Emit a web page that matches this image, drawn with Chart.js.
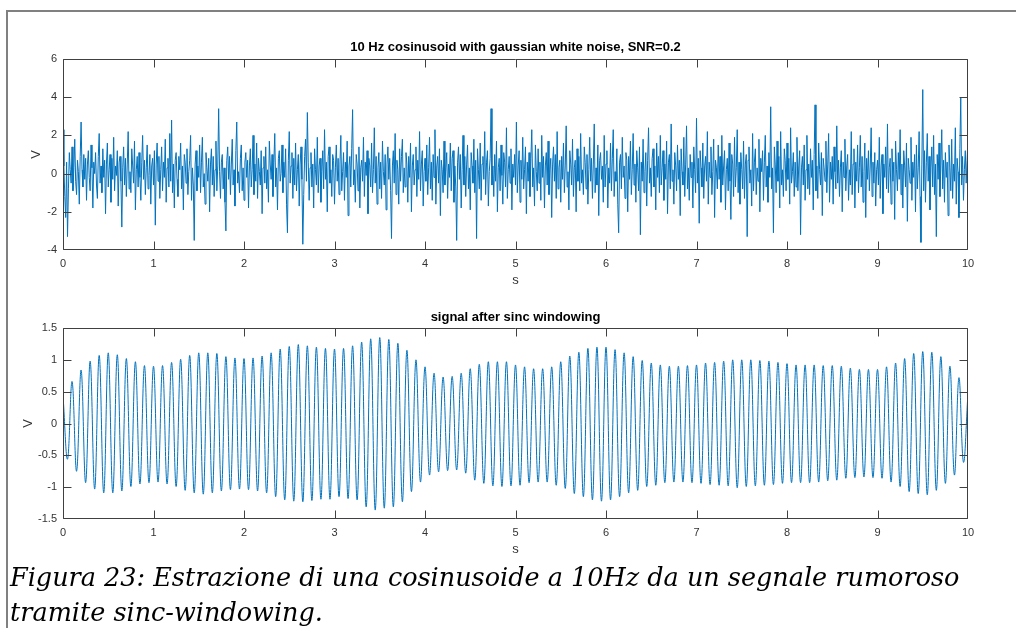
<!DOCTYPE html>
<html>
<head>
<meta charset="utf-8">
<script src="https://cdn.jsdelivr.net/npm/chart.js@4.4.1/dist/chart.umd.min.js"></script>
<style>
  body { margin: 0; background: #fff; width: 1016px; height: 628px; overflow: hidden; position: relative; }
  #frame { position: absolute; left: 6px; top: 10px; width: 1010px; height: 618px; border-top: 2px solid #808080; border-left: 2px solid #808080; }
  canvas { position: absolute; left: 0; }
  #c1 { top: 0; }
  #c2 { top: 300px; }
  #caption { position: absolute; left: 10px; top: 560px; font-family: "DejaVu Serif"; font-style: italic; font-size: 25.5px; line-height: 35px; color: #000; white-space: nowrap; }
</style>
</head>
<body>
<div id="frame"></div>
<canvas id="c1" width="1016" height="300"></canvas>
<canvas id="c2" width="1016" height="265"></canvas>
<div id="caption">Figura 23: Estrazione di una cosinusoide a 10Hz da un segnale rumoroso<br>tramite sinc-windowing.</div>
<script>
// noisy signal, one sample every 0.01 s
const dtNoise = 0.01;
const noisy = [
  2.3,0.4,-1.2,-2.3,0.6,-3.3,-0.8,1.1,0.2,-0.5,1.4,-0.9,0.3,1.8,-0.4,-1.1,0.7,0.1,-1.6,0.9,2.7,0.2,-0.7,1.0,-0.3,
  0.8,-1.4,0.5,1.2,-0.2,-0.9,1.5,0.3,-1.8,0.6,0.0,1.1,-0.6,-1.3,0.9,2.1,-0.5,0.4,-1.0,1.3,-0.2,0.7,-2.1,0.5,1.6,
  -0.7,0.2,1.0,-1.5,0.8,-0.3,1.9,-0.9,0.4,-0.1,1.2,-1.7,0.6,0.9,-0.4,-2.8,0.3,1.4,-0.6,0.8,-1.2,0.5,2.2,-0.8,0.1,
  -1.0,1.3,0.4,-0.5,1.7,-1.9,0.2,0.9,-0.7,1.1,-0.2,-1.4,0.6,2.0,-0.3,0.7,-1.1,0.3,1.5,-0.8,-0.1,1.0,-1.6,0.4,0.8,
  -0.6,1.2,-2.7,0.5,1.6,-0.4,0.9,-1.3,0.2,1.4,-0.9,0.6,-0.2,1.8,-1.5,0.3,0.8,-0.7,2.1,-0.4,2.8,-1.0,0.5,-1.8,0.7,
  1.1,-0.3,-1.2,0.9,0.2,1.6,-0.8,0.4,-1.9,1.0,0.6,-0.5,1.3,-1.1,0.1,0.7,2.0,-1.4,0.3,-0.6,-3.5,0.5,1.2,-0.9,0.4,
  -0.2,1.5,-1.0,0.6,1.9,-0.7,0.0,-1.6,1.1,0.3,-0.4,0.8,-2.0,0.5,1.3,-0.6,0.9,-1.2,0.2,1.7,-0.9,0.4,3.4,0.1,-1.3,
  0.6,1.0,-0.8,0.3,-1.5,-3.0,0.7,1.4,-0.3,0.9,-1.1,0.5,1.8,-0.6,0.2,-1.7,1.2,2.7,-0.5,0.1,-1.0,0.8,1.5,-0.9,0.3,
  -1.4,0.6,1.1,-0.2,0.7,-1.8,0.4,1.3,-0.7,0.2,2.0,-1.1,0.5,-0.4,1.6,-1.3,0.8,0.1,-0.6,1.2,-2.1,0.3,0.9,-0.5,1.4,
  -0.8,0.2,-1.5,1.7,0.5,-0.3,1.0,-1.2,0.6,2.1,-0.7,0.3,-1.9,0.8,1.2,-0.4,0.0,1.5,-1.0,0.6,-0.2,1.3,-1.6,-3.1,0.7,
  2.2,-0.5,0.4,1.1,-1.3,0.8,-0.6,1.6,-0.9,0.2,1.0,-1.7,0.5,1.4,-0.3,-3.7,-1.1,0.9,1.8,-0.4,3.2,0.6,-1.4,0.3,1.1,
  -0.7,0.5,-1.8,1.3,0.2,-0.6,1.9,-1.0,0.4,0.8,-1.5,0.1,1.2,-0.8,2.3,-0.3,0.6,-2.0,0.9,1.4,-0.5,0.2,-1.2,1.0,0.7,
  -1.6,0.3,1.5,-0.4,0.8,-1.1,0.5,2.0,-0.9,0.1,1.1,-1.4,0.6,-0.2,1.7,-2.2,0.4,0.9,-0.7,1.3,3.35,-0.6,0.2,-1.5,1.0,
  0.5,-0.9,1.4,-1.8,0.3,0.7,-0.4,1.9,-1.2,0.6,-0.1,1.2,-2.1,0.8,0.4,-0.7,1.6,-1.0,0.2,2.4,-0.5,0.9,-1.6,0.3,1.1,
  -0.8,0.6,-1.3,1.7,0.1,-0.6,1.0,-1.9,0.5,1.4,-0.3,0.8,-0.9,-3.4,0.4,1.2,-0.5,2.1,-1.1,0.7,0.2,-1.6,1.3,-0.4,0.9,
  1.8,-1.0,0.3,-0.7,1.1,0.5,-1.5,0.9,-0.2,1.6,-2.0,0.4,1.0,-0.6,0.2,1.4,-1.2,0.7,-0.3,2.2,-0.9,0.5,1.2,-1.7,0.1,
  0.8,-0.4,1.5,-1.1,0.3,1.9,-0.8,0.6,-1.4,1.0,-0.2,2.3,-1.6,0.4,0.9,-0.5,1.3,-2.2,0.7,0.2,-1.0,1.7,-0.6,0.3,1.1,
  -1.3,0.5,-0.2,1.6,-0.9,0.8,1.2,-1.5,0.4,-0.7,-3.5,0.6,1.4,-0.3,1.0,-1.8,0.2,2.0,-0.6,0.9,-1.2,0.5,1.5,-0.8,0.3,
  -1.9,1.1,0.4,-0.5,1.8,-1.0,0.7,-3.4,1.3,0.2,-0.8,1.6,-1.4,0.5,0.9,-0.3,2.2,-1.1,0.6,1.2,-1.7,0.1,0.8,3.4,-0.6,
  0.4,-1.2,1.0,-0.4,1.7,-2.0,0.3,0.8,-0.9,1.5,-0.1,-1.6,1.1,0.6,-0.7,2.4,-1.3,0.2,0.9,-0.5,1.3,-1.9,0.5,-0.2,1.0,
  -0.6,2.7,-1.0,0.4,1.2,-1.5,0.7,-0.3,1.9,-0.8,0.2,1.4,-2.1,0.6,-0.4,1.1,-1.2,0.8,2.3,-0.7,0.3,-1.7,1.5,0.1,-0.9,
  1.3,-0.5,0.6,-1.4,2.0,-0.2,0.9,-1.8,0.4,1.1,-0.6,1.7,-1.1,0.2,0.8,-2.3,0.5,1.4,-0.4,1.0,-1.3,2.2,-0.8,0.3,0.7,
  -1.5,0.9,-0.3,1.6,-1.0,0.4,2.5,-0.7,0.1,-1.9,1.2,0.5,-0.6,1.8,-1.2,0.3,0.7,-2.0,1.3,-0.4,0.9,-0.9,2.1,-0.5,0.2,
  -1.1,1.4,0.6,-0.8,1.0,-1.6,0.2,1.9,-0.4,0.8,-1.3,0.5,2.6,-1.0,0.3,-0.6,1.5,-2.2,0.7,1.1,-0.3,0.4,-1.5,2.0,-0.7,
  0.5,1.2,-1.8,0.3,-0.5,1.6,-0.9,0.8,2.3,-1.2,0.1,-0.4,1.3,-1.6,-3.1,0.6,1.0,-0.8,1.9,-0.2,0.4,-1.3,1.1,0.7,-2.0,
  0.9,-0.3,1.7,-1.1,0.2,2.1,-0.6,0.5,-1.5,1.2,0.3,-0.9,1.4,-3.2,0.6,-0.4,1.8,-1.0,0.1,1.1,-1.7,0.7,2.4,-0.5,0.3,
  -1.2,0.8,1.3,-0.7,0.4,-1.9,1.6,-0.2,0.9,-1.0,2.0,-0.6,0.3,1.2,-1.4,0.5,-0.3,1.7,-2.1,0.6,1.0,-0.8,2.6,-0.4,0.2,
  -1.6,1.1,0.4,-0.9,1.5,-0.3,0.7,-2.2,1.3,0.1,-0.6,1.9,-1.2,0.5,2.5,-0.8,0.3,-1.4,1.0,-0.2,0.6,-1.8,1.4,0.2,-1.0,
  2.9,-0.5,0.8,-2.6,1.2,0.3,-0.7,1.6,-1.3,0.4,0.9,-0.4,2.2,-1.6,0.6,-0.2,1.4,-1.1,0.1,1.8,-2.3,0.7,0.3,-0.8,1.5,
  -0.3,0.9,-1.5,2.0,-0.6,0.4,1.2,-1.9,0.2,0.8,-0.9,1.6,-0.4,-2.4,1.0,0.5,-1.2,1.9,-0.7,0.3,2.3,-1.0,0.6,-1.6,1.1,
  0.2,-0.8,1.7,-1.3,0.5,1.0,-3.3,0.7,1.4,-0.5,0.2,-1.7,2.1,-0.9,0.6,1.3,-1.1,0.3,-0.4,1.8,-2.0,0.8,0.1,1.2,-1.4,
  0.6,2.0,-0.7,0.4,-1.5,1.1,-0.2,3.5,-0.8,0.3,-3.1,1.4,0.5,-1.0,1.7,-0.4,0.9,-1.8,2.2,-0.6,0.2,-1.2,1.3,0.7,-0.9,
  1.6,-0.3,0.8,-1.6,2.4,-0.5,0.1,1.1,-1.2,0.6,-0.7,1.9,-0.9,0.4,1.2,-3.2,0.3,0.9,-0.6,1.5,-1.4,0.2,2.0,-0.8,0.5,
  -1.1,1.3,-0.2,0.7,-1.9,1.0,3.6,-0.9,0.4,-1.3,1.6,0.2,-0.6,1.1,-2.2,0.8,0.3,-0.4,1.7,-1.0,0.5,2.1,-1.5,0.6,-0.3,
  0.9,-1.6,1.4,0.1,-0.8,2.5,-0.5,0.7,-1.2,0.3,1.2,-2.0,0.6,-0.2,1.8,-0.9,0.4,1.0,-1.4,0.2,-0.6,2.2,-1.1,0.5,1.3,
  -1.8,0.6,-0.4,1.5,-1.0,0.3,2.0,-0.7,0.9,-1.5,0.1,1.6,-2.3,0.8,-0.3,1.2,-0.9,0.4,2.4,-1.2,0.6,-0.5,1.1,-1.7,0.2,
  0.7,-0.6,1.9,-1.3,0.4,1.0,-2.1,0.5,-0.2,1.4,-0.8,2.6,-1.0,0.3,0.8,-1.6,1.3,-0.4,0.6,-2.4,1.7,0.2,-0.9,1.1,-0.3,
  2.3,-1.1,0.5,-1.8,1.2,0.4,-0.7,1.6,-2.5,0.8,0.2,-0.5,1.9,-1.4,0.6,-0.2,1.0,-2.0,1.5,-0.8,0.3,2.2,-1.2,-3.6,0.5,
  4.4,-0.9,1.2,-1.5,0.6,2.1,-0.4,0.9,-1.9,0.3,1.4,-0.7,2.0,-1.1,0.5,-3.3,1.0,-0.3,1.6,-1.2,0.4,2.3,-0.8,0.7,-1.5,
  1.1,-0.2,0.6,-2.2,1.5,0.3,-0.9,1.8,-1.3,0.5,-0.4,2.4,-1.6,0.8,0.1,-2.3,1.3,4.0,-0.6,0.9,-1.4,0.2,1.2,-0.5,0.7,
  1.9
];

// filtered signal: crests and troughs, every 0.05 s
const dtFilt = 0.05;
const filtered = [
  0.44,-0.56,0.66,-0.75,0.84,-0.93,0.98,-1.03,1.07,-1.09,1.11,-1.09,1.08,-1.06,1.02,-0.99,0.97,-0.95,0.91,-0.93,
  0.90,-0.92,0.91,-0.95,0.96,-0.99,1.01,-1.05,1.07,-1.09,1.11,-1.11,1.11,-1.09,1.10,-1.06,1.05,-1.04,1.03,-1.03,
  1.02,-1.04,1.03,-1.06,1.06,-1.09,1.11,-1.15,1.17,-1.20,1.21,-1.22,1.24,-1.23,1.22,-1.21,1.20,-1.19,1.18,-1.19,
  1.17,-1.15,1.18,-1.18,1.22,-1.20,1.28,-1.31,1.33,-1.36,1.35,-1.33,1.32,-1.31,1.26,-1.23,1.15,-1.07,1.00,-0.92,
  0.89,-0.81,0.79,-0.76,0.73,-0.74,0.74,-0.73,0.79,-0.78,0.86,-0.89,0.93,-0.94,0.97,-0.98,0.97,-0.99,0.97,-0.98,
  0.92,-0.97,0.89,-0.93,0.86,-0.92,0.86,-0.92,0.89,-0.97,0.97,-1.02,1.06,-1.10,1.12,-1.15,1.18,-1.20,1.20,-1.22,
  1.20,-1.20,1.16,-1.15,1.11,-1.09,1.05,-1.05,0.99,-0.99,0.95,-0.97,0.92,-0.93,0.90,-0.92,0.90,-0.92,0.91,-0.93,
  0.92,-0.94,0.95,-0.96,0.96,-0.97,0.98,-0.98,1.00,-1.01,1.00,-0.99,1.00,-0.98,0.99,-0.97,0.98,-0.96,0.96,-0.94,
  0.94,-0.93,0.92,-0.93,0.92,-0.93,0.92,-0.92,0.91,-0.90,0.91,-0.89,0.90,-0.86,0.87,-0.85,0.85,-0.84,0.85,-0.85,
  0.85,-0.86,0.89,-0.92,0.95,-0.99,1.02,-1.07,1.10,-1.10,1.13,-1.12,1.12,-1.05,1.05,-0.94,0.90,-0.81,0.72,-0.61,
  0.48
];

const topTitle = "10 Hz cosinusoid with gaussian white noise, SNR=0.2";
const bottomTitle = "signal after sinc windowing";
const topYTicks = [-4, 6, 2];      // min, max, step
const bottomYTicks = [-1.5, 1.5, 0.5];

const blue = "#0072bd";
const axisCol = "#333";

// box round the axes with inward ticks, like matlab, plus a title centred on the axes
const boxPlugin = {
  id: "box",
  afterDraw(chart, args, o) {
    const { ctx, chartArea: a, scales: { x, y } } = chart;
    const L = Math.round(a.left) + 0.5, R = Math.round(a.right) - 0.5;
    const T = Math.round(a.top) + 0.5, B = Math.round(a.bottom) - 0.5;
    const clamp = (v, lo, hi) => Math.min(Math.max(v, lo), hi);
    ctx.save();
    ctx.strokeStyle = "#404040";
    ctx.lineWidth = 1;
    ctx.beginPath();
    x.ticks.forEach(t => {
      const px = clamp(Math.round(x.getPixelForValue(t.value)) + 0.5, L, R);
      ctx.moveTo(px, B); ctx.lineTo(px, B - 8);
      ctx.moveTo(px, T); ctx.lineTo(px, T + 8);
    });
    y.ticks.forEach(t => {
      const py = clamp(Math.round(y.getPixelForValue(t.value)) + 0.5, T, B);
      ctx.moveTo(L, py); ctx.lineTo(L + 8, py);
      ctx.moveTo(R, py); ctx.lineTo(R - 8, py);
    });
    ctx.rect(L, T, R - L, B - T);
    ctx.stroke();

    ctx.fillStyle = "#000";
    ctx.font = "bold 13px 'Liberation Sans'";
    ctx.textAlign = "center";
    ctx.textBaseline = "middle";
    ctx.fillText(o.text, (a.left + a.right) / 2, o.y);
    ctx.restore();
  }
};

function makeChart(id, values, dt, title, yt, opts) {
  const pts = values.map((v, i) => ({ x: i * dt, y: v }));
  return new Chart(document.getElementById(id), {
    type: "line",
    data: {
      datasets: [{
        data: pts,
        borderColor: blue,
        borderWidth: 1,
        pointRadius: 0,
        tension: opts.tension,
        fill: false
      }]
    },
    options: {
      responsive: false,
      animation: false,
      devicePixelRatio: 1,
      layout: { padding: { left: 0, right: 48, top: opts.padTop, bottom: opts.padBottom } },
      plugins: {
        legend: { display: false },
        tooltip: { enabled: false },
        title: { display: false },
        box: { text: title, y: opts.titleY }
      },
      scales: {
        x: {
          type: "linear",
          min: 0, max: 10,
          grid: { display: false, drawTicks: false },
          border: { display: false },
          ticks: { stepSize: 1, color: axisCol, padding: 7, font: { family: "Liberation Sans", size: 11 } },
          title: { display: true, text: "s", color: axisCol, padding: { top: 0, bottom: 1.5 }, font: { family: "Liberation Sans", size: 13 } },
          afterFit: s => { s.height = 40; }
        },
        y: {
          min: yt[0], max: yt[1],
          grid: { display: false, drawTicks: false },
          border: { display: false },
          ticks: {
            stepSize: yt[2], color: axisCol, padding: 6,
            font: { family: "Liberation Sans", size: 11 },
            callback: v => String(v)
          },
          title: { display: true, text: "V", color: axisCol, padding: { top: opts.vPad, bottom: 0 }, font: { family: "Liberation Sans", size: 13 } },
          afterFit: s => { s.width = 63; }
        }
      }
    },
    plugins: [boxPlugin]
  });
}

makeChart("c1", noisy, dtNoise, topTitle, topYTicks,
  { tension: 0, padTop: 59, padBottom: 10, titleY: 47, vPad: 28.9 });
makeChart("c2", filtered, dtFilt, bottomTitle, bottomYTicks,
  { tension: 0.4, padTop: 28, padBottom: 6, titleY: 17, vPad: 20.2 });
</script>
</body>
</html>
